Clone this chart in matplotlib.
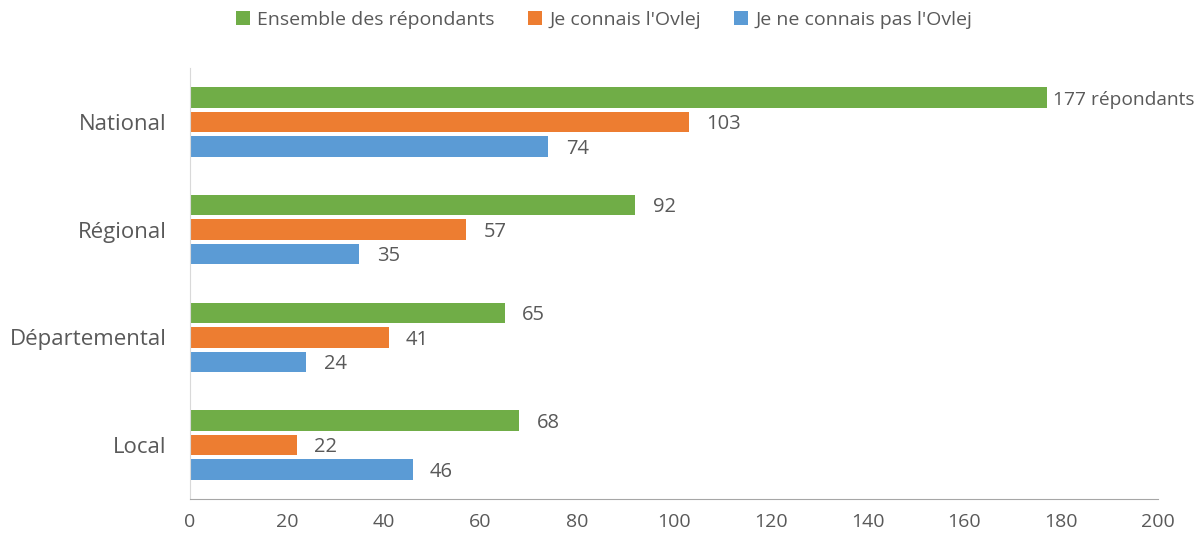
import numpy as np
import matplotlib.pyplot as plt

plt.rcParams['font.family'] = ['Open Sans', 'DejaVu Sans']

categories = ['National', 'Régional', 'Départemental', 'Local']
series_names = ['Ensemble des répondants', "Je connais l'Ovlej", "Je ne connais pas l'Ovlej"]
ensemble = [177, 92, 65, 68]
connais = [103, 57, 41, 22]
connais_pas = [74, 35, 24, 46]
colors = ['#70AD47', '#ED7D31', '#5B9BD5']
txt = '#595959'

fig = plt.figure(figsize=(12.03, 5.38), dpi=100)
ax = fig.add_axes([0.158, 0.0725, 0.8046, 0.801])

y = np.arange(len(categories))
h = 0.19
offs = [-0.227, 0, 0.227]
handles = []
for vals, off, col, name in zip([ensemble, connais, connais_pas], offs, colors, series_names):
    b = ax.barh(y + off, vals, height=h, color=col, label=name)
    handles.append(b)
    for yi, v in zip(y + off, vals):
        lab = str(v)
        gap, fs = 3.6, 14.5
        if name == series_names[0] and v == 177:
            lab = '177 répondants'
            gap, fs = 1.2, 13.8
        ax.text(v + gap, yi + 0.02, lab, va='center', ha='left', fontsize=fs, color=txt)

ax.set_ylim(3.5, -0.5)
ax.set_xlim(0, 200)
ax.set_xticks(np.arange(0, 201, 20))
ax.set_yticks(y)
ax.set_yticklabels(categories, fontsize=16)
ax.tick_params(axis='both', length=0, colors=txt)
ax.tick_params(axis='x', labelsize=14, pad=10)
ax.tick_params(axis='y', pad=17)
for s in ['top', 'right']:
    ax.spines[s].set_visible(False)
ax.spines['left'].set_color('#D9D9D9')
ax.spines['bottom'].set_color('#A6A6A6')

leg = fig.legend(handles=handles, loc='center', bbox_to_anchor=(0.502, 0.963), ncol=3,
                 frameon=False, fontsize=14, handlelength=0.75, handleheight=0.75,
                 handletextpad=0.35, columnspacing=1.7)
for t in leg.get_texts():
    t.set_color(txt)

fig.savefig('out.png', dpi=100)
